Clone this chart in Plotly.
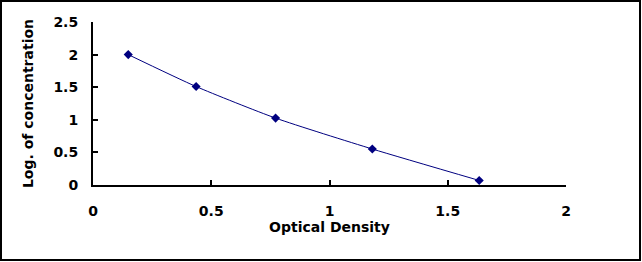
import plotly.graph_objects as go

od = [0.149, 0.436, 0.772, 1.181, 1.633]
log_conc = [2.0, 1.51, 1.026, 0.552, 0.07]
x_ticks = [0, 0.5, 1, 1.5, 2]
y_ticks = [0, 0.5, 1, 1.5, 2, 2.5]

W, H = 642, 262
ml, mr, mt, mb = 93, 76, 22, 77
pw, ph = W - ml - mr, H - mt - mb

fig = go.Figure()
fig.add_trace(go.Scatter(
    x=od, y=log_conc, mode="lines+markers",
    line=dict(color="#000080", width=1, shape="spline", smoothing=0.6),
    marker=dict(symbol="diamond", size=7, color="#000080"),
    showlegend=False,
))

font = dict(family="DejaVu Sans, Arial, sans-serif", size=14, color="black")
fig.update_layout(
    width=W, height=H,
    margin=dict(l=ml, r=mr, t=mt, b=mb),
    paper_bgcolor="white", plot_bgcolor="white",
    font=font,
    xaxis=dict(
        range=[0, 2], tickvals=x_ticks, ticktext=[f"<b>{v:g}</b>" for v in x_ticks],
        showgrid=False, zeroline=False, showline=True, linecolor="black", linewidth=2,
        ticks="inside", ticklen=5, tickwidth=2, tickcolor="black",
        ticklabelstandoff=12,
        title=dict(text="<b>Optical Density</b>", standoff=4, font=font),
    ),
    yaxis=dict(
        range=[0, 2.5], tickvals=y_ticks, ticktext=[f"<b>{v:g}</b>" for v in y_ticks],
        showgrid=False, zeroline=False, showline=True, linecolor="black", linewidth=2,
        ticks="inside", ticklen=5, tickwidth=2, tickcolor="black",
        ticklabelstandoff=10,
        title=dict(text="<b>Log. of concentration</b>", standoff=16, font=font),
    ),
    shapes=[dict(
        type="rect", xref="paper", yref="paper",
        x0=(1 - ml) / pw, x1=(640 - ml) / pw,
        y0=(mt + ph - 260) / ph, y1=(mt + ph - 1) / ph,
        line=dict(color="black", width=2), fillcolor="rgba(0,0,0,0)", layer="above",
    )],
)
fig.write_html("out.html")
